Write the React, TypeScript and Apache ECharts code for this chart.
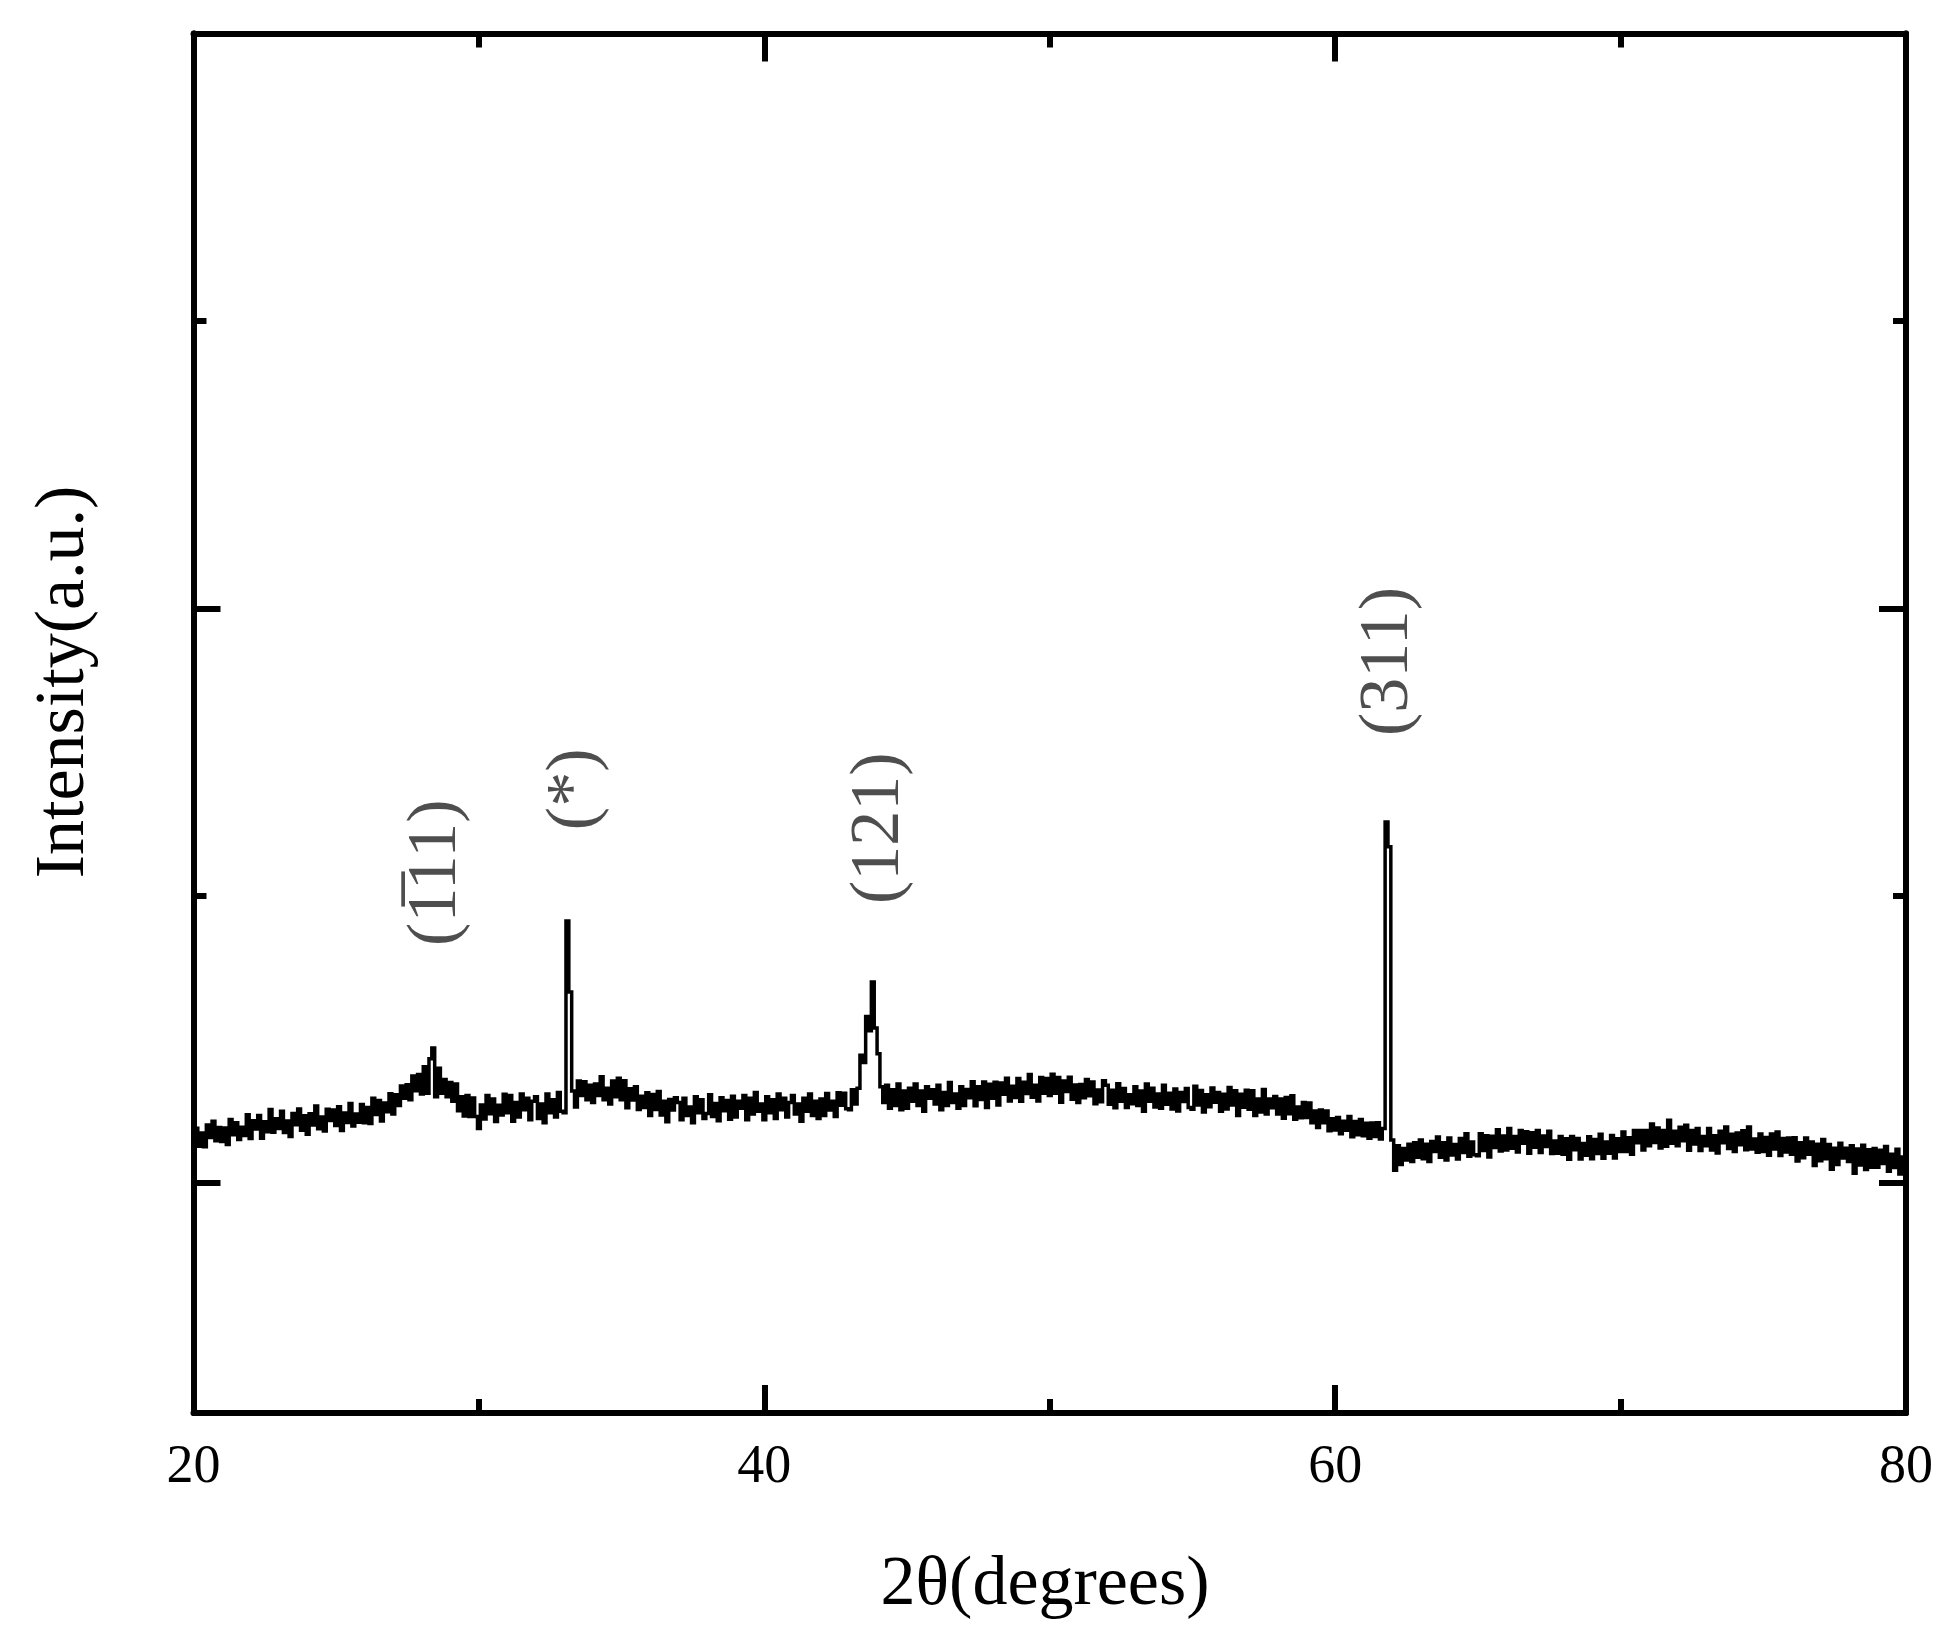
import React, { useEffect, useRef } from "react";
import * as echarts from "echarts";

// 2θ sampling grid of the scan (degrees)
const TWO_THETA_START = 20;
const TWO_THETA_STEP = 0.1;

// Intensity (a.u.), 10 points per degree, 20.0° … 80.0°
const intensity: number[] = [
  1140, 1191, 1128, 1174, 1126, 1202, 1159, 1215, 1147, 1193, // 20
  1145, 1192, 1134, 1221, 1168, 1210, 1152, 1194, 1166, 1238, // 21
  1155, 1217, 1188, 1235, 1156, 1213, 1179, 1256, 1177, 1224, // 22
  1190, 1250, 1176, 1216, 1162, 1242, 1203, 1258, 1184, 1234, // 23
  1170, 1241, 1202, 1268, 1189, 1230, 1181, 1257, 1218, 1254, // 24
  1200, 1266, 1183, 1244, 1211, 1277, 1199, 1240, 1212, 1273, // 25
  1210, 1263, 1207, 1295, 1239, 1287, 1216, 1279, 1248, 1311, // 26
  1240, 1307, 1270, 1338, 1295, 1342, 1290, 1373, 1321, 1378, // 27
  1310, 1405, 1313, 1433, 1470, 1300, 1400, 1313, 1360, 1300, // 28
  1350, 1285, 1345, 1252, 1300, 1233, 1305, 1232, 1296, 1232, // 29
  1190, 1272, 1223, 1305, 1241, 1293, 1214, 1271, 1237, 1309, // 30
  1245, 1305, 1215, 1280, 1230, 1310, 1255, 1295, 1220, 1285, // 31
  1300, 1225, 1275, 1210, 1310, 1245, 1290, 1230, 1315, 1250, // 32
  1245, 1912, 1665, 1320, 1265, 1355, 1305, 1353, 1290, 1340, // 33
  1280, 1345, 1305, 1370, 1290, 1330, 1275, 1355, 1300, 1365, // 34
  1290, 1356, 1262, 1328, 1289, 1335, 1256, 1302, 1263, 1314, // 35
  1235, 1308, 1256, 1319, 1237, 1285, 1213, 1291, 1254, 1297, // 36
  1280, 1220, 1295, 1235, 1265, 1210, 1300, 1245, 1290, 1225, // 37
  1242, 1307, 1232, 1277, 1217, 1297, 1252, 1287, 1222, 1302, // 38
  1230, 1285, 1260, 1305, 1220, 1295, 1240, 1315, 1250, 1275, // 39
  1220, 1300, 1245, 1290, 1225, 1310, 1255, 1295, 1230, 1280, // 40
  1305, 1240, 1275, 1215, 1295, 1250, 1310, 1235, 1285, 1225, // 41
  1293, 1235, 1312, 1254, 1285, 1232, 1314, 1271, 1313, 1259, // 42
  1255, 1325, 1275, 1330, 1445, 1420, 1580, 1530, 1700, 1540, // 43
  1450, 1335, 1280, 1340, 1260, 1325, 1270, 1345, 1255, 1320, // 44
  1260, 1330, 1285, 1345, 1270, 1320, 1250, 1335, 1295, 1325, // 45
  1275, 1340, 1255, 1315, 1270, 1350, 1280, 1310, 1260, 1335, // 46
  1270, 1326, 1297, 1353, 1269, 1335, 1291, 1352, 1263, 1344, // 47
  1295, 1351, 1272, 1348, 1309, 1365, 1286, 1337, 1298, 1364, // 48
  1285, 1351, 1312, 1378, 1299, 1340, 1286, 1367, 1313, 1364, // 49
  1305, 1379, 1313, 1367, 1281, 1355, 1319, 1368, 1292, 1341, // 50
  1280, 1343, 1297, 1360, 1304, 1352, 1276, 1324, 1283, 1356, // 51
  1340, 1274, 1323, 1262, 1346, 1285, 1329, 1263, 1307, 1276, // 52
  1335, 1270, 1320, 1250, 1345, 1285, 1330, 1265, 1310, 1260, // 53
  1340, 1274, 1313, 1258, 1327, 1251, 1315, 1284, 1329, 1263, // 54
  1257, 1337, 1272, 1322, 1247, 1307, 1266, 1331, 1281, 1315, // 55
  1250, 1309, 1258, 1333, 1272, 1321, 1235, 1309, 1264, 1323, // 56
  1257, 1321, 1235, 1293, 1247, 1326, 1240, 1293, 1262, 1301, // 57
  1240, 1293, 1226, 1298, 1241, 1304, 1222, 1265, 1227, 1280, // 58
  1228, 1279, 1210, 1251, 1193, 1254, 1210, 1251, 1182, 1224, // 59
  1185, 1228, 1172, 1215, 1184, 1232, 1161, 1214, 1168, 1221, // 60
  1165, 1208, 1156, 1209, 1162, 1210, 1153, 1190, 2256, 2170, // 61
  1150, 1045, 1130, 1065, 1120, 1080, 1135, 1075, 1140, 1090, // 62
  1150, 1085, 1135, 1075, 1145, 1110, 1160, 1090, 1140, 1080, // 63
  1157, 1098, 1134, 1084, 1155, 1106, 1172, 1093, 1143, 1099, // 64
  1095, 1172, 1113, 1165, 1091, 1163, 1124, 1186, 1112, 1164, // 65
  1115, 1190, 1121, 1162, 1108, 1183, 1139, 1179, 1104, 1175, // 66
  1125, 1183, 1106, 1164, 1127, 1180, 1103, 1146, 1104, 1162, // 67
  1100, 1154, 1083, 1162, 1116, 1155, 1084, 1138, 1097, 1161, // 68
  1085, 1152, 1103, 1170, 1086, 1143, 1104, 1166, 1087, 1154, // 69
  1110, 1178, 1110, 1158, 1100, 1183, 1140, 1183, 1115, 1183, // 70
  1130, 1206, 1141, 1192, 1122, 1183, 1128, 1219, 1139, 1180, // 71
  1130, 1194, 1147, 1201, 1114, 1183, 1136, 1190, 1113, 1162, // 72
  1130, 1190, 1115, 1165, 1105, 1180, 1140, 1195, 1120, 1170, // 73
  1110, 1174, 1133, 1182, 1116, 1195, 1119, 1153, 1107, 1171, // 74
  1110, 1159, 1097, 1171, 1119, 1178, 1096, 1155, 1108, 1157, // 75
  1100, 1158, 1077, 1140, 1088, 1157, 1100, 1143, 1061, 1135, // 76
  1078, 1152, 1085, 1134, 1048, 1121, 1065, 1139, 1087, 1121, // 77
  1075, 1130, 1034, 1119, 1063, 1132, 1047, 1116, 1055, 1120, // 78
  1055, 1114, 1068, 1127, 1041, 1100, 1054, 1118, 1032, 1091, // 79
  1065, // 80
];

// Peak annotations (Miller indices), anchored in data coordinates
const peakLabels = ["(1\u030511)", "(*)", "(121)", "(311)"];
const peakLabel2Theta = [28.35, 33.2, 43.85, 61.7];
const peakLabelIntensity = [2080, 2370, 2235, 2815];

// Axis ranges and ticks
const X_MIN = 20;
const X_MAX = 80;
const X_TICK_INTERVAL = 20;
const Y_MIN = 200;
const Y_MAX = 5000;
const yMajorTicks = [1000, 3000];
const yMinorTicks = [2000, 4000];

const X_TITLE = "2θ(degrees)";
const Y_TITLE = "Intensity(a.u.)";

const SERIF = "'Liberation Serif', 'Times New Roman', serif";
const AXIS_W = 6;

export default function App() {
  const ref = useRef<HTMLDivElement>(null);

  useEffect(() => {
    document.body.style.margin = "0";
    if (!ref.current) return;
    const chart = echarts.init(ref.current, undefined, { renderer: "svg" });

    const series = intensity.map((v, i) => [
      +(TWO_THETA_START + i * TWO_THETA_STEP).toFixed(1),
      v,
    ]);
    const labelData = peakLabels.map((t, i) => [
      peakLabel2Theta[i],
      peakLabelIntensity[i],
      t,
    ]);

    const xAxisBase = {
      type: "value" as const,
      min: X_MIN,
      max: X_MAX,
      interval: X_TICK_INTERVAL,
      axisLine: { show: true, onZero: false, lineStyle: { color: "#000", width: AXIS_W } },
      axisTick: { show: true, inside: true, length: 28, lineStyle: { color: "#000", width: AXIS_W } },
      minorTick: { show: true, splitNumber: 2, length: 14, lineStyle: { color: "#000", width: AXIS_W } },
      splitLine: { show: false },
      minorSplitLine: { show: false },
    };

    const yAxisDef = (position: "left" | "right", ticks: number[], len: number) => ({
      type: "value" as const,
      position,
      min: Y_MIN,
      max: Y_MAX,
      axisLine: { show: true, onZero: false, lineStyle: { color: "#000", width: AXIS_W } },
      axisTick: {
        show: true,
        inside: true,
        length: len,
        customValues: ticks,
        lineStyle: { color: "#000", width: AXIS_W },
      },
      axisLabel: { show: false },
      splitLine: { show: false },
    });

    chart.setOption({
      animation: false,
      backgroundColor: "#fff",
      grid: { left: 193.5, right: 51, top: 33.5, bottom: 227, containLabel: false },
      xAxis: [
        {
          ...xAxisBase,
          position: "bottom",
          axisLabel: {
            show: true,
            color: "#000",
            fontFamily: SERIF,
            fontSize: 54,
            margin: 24,
          },
        },
        { ...xAxisBase, position: "top", axisLabel: { show: false } },
      ],
      yAxis: [
        yAxisDef("left", yMajorTicks, 27),
        yAxisDef("left", yMinorTicks, 13),
        yAxisDef("right", yMajorTicks, 27),
        yAxisDef("right", yMinorTicks, 13),
      ],
      series: [
        {
          type: "line",
          xAxisIndex: 0,
          yAxisIndex: 0,
          data: series,
          step: "middle",
          showSymbol: false,
          symbol: "none",
          lineStyle: { color: "#000", width: 3.5, join: "miter" },
          z: 3,
        },
        {
          type: "scatter",
          xAxisIndex: 0,
          yAxisIndex: 0,
          data: labelData,
          symbolSize: 0,
          silent: true,
          z: 4,
          label: {
            show: true,
            position: "inside",
            rotate: 90,
            formatter: (p: any) => p.data[2],
            fontFamily: SERIF,
            fontSize: 70,
            color: "#222",
          },
        },
      ],
      graphic: [
        {
          type: "text",
          x: 1045,
          y: 1580,
          style: {
            text: X_TITLE,
            font: `70px ${SERIF}`,
            fill: "#000",
            textAlign: "center",
            textVerticalAlign: "middle",
          },
        },
        {
          type: "text",
          x: 59,
          y: 682,
          rotation: Math.PI / 2,
          style: {
            text: Y_TITLE,
            font: `70px ${SERIF}`,
            fill: "#000",
            textAlign: "center",
            textVerticalAlign: "middle",
          },
        },
      ],
    });

    return () => chart.dispose();
  }, []);

  return <div ref={ref} style={{ width: 1957, height: 1640 }} />;
}
